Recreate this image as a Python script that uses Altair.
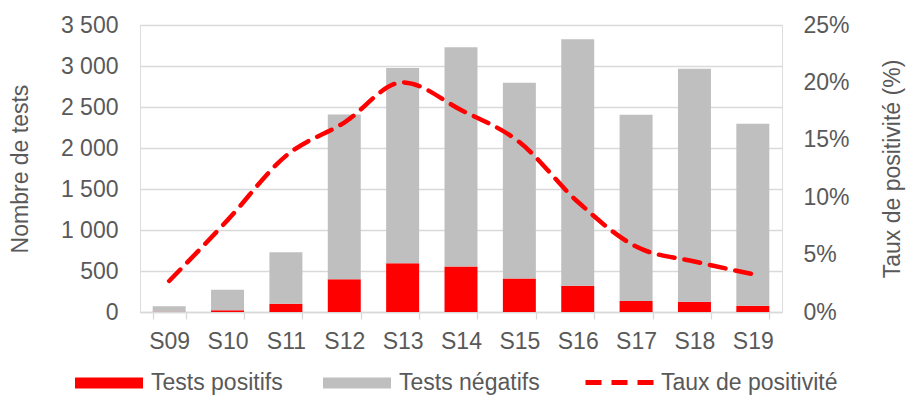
import altair as alt
import pandas as pd

weeks = ["S09", "S10", "S11", "S12", "S13", "S14", "S15", "S16", "S17", "S18", "S19"]
positifs = [2, 20, 100, 400, 595, 555, 410, 320, 135, 125, 75]
negatifs = [68, 250, 630, 2010, 2380, 2675, 2385, 3005, 2270, 2840, 2220]
taux = [0.027, 0.080, 0.136, 0.165, 0.200, 0.176, 0.148, 0.096, 0.057, 0.044, 0.033]

bar_series = ["Tests positifs", "Tests négatifs"]
bar_colors = ["#ff0000", "#bfbfbf"]
line_series = ["Taux de positivité"]

rows = []
for w, p, n in zip(weeks, positifs, negatifs):
    rows.append({"semaine": w, "serie": bar_series[0], "valeur": p, "ordre": 0})
    rows.append({"semaine": w, "serie": bar_series[1], "valeur": n, "ordre": 1})
bars_df = pd.DataFrame(rows)
line_df = pd.DataFrame({"semaine": weeks, "taux": taux, "serie": line_series * len(weeks)})

FONT = "Liberation Sans"
TXT = "#595959"
GRID = "#d9d9d9"
FS = 23

rect_path = "M-1,-0.16L1,-0.16L1,0.16L-1,0.16Z"

x_enc = alt.X(
    "semaine:N",
    sort=weeks,
    title=None,
    scale=alt.Scale(paddingInner=0.435, paddingOuter=0.2175),
    axis=alt.Axis(
        labelAngle=0, tickBand="extent", tickColor=GRID, tickSize=7, tickWidth=1.3,
        domainColor=GRID, domainWidth=1.3, grid=False, labelPadding=11,
        labelFontSize=FS, labelColor=TXT, labelFont=FONT,
    ),
)

bars = alt.Chart(bars_df).mark_bar().encode(
    x=x_enc,
    y=alt.Y(
        "valeur:Q",
        stack="zero",
        scale=alt.Scale(domain=[0, 3500], nice=False),
        title="Nombre de tests",
        axis=alt.Axis(
            values=[0, 500, 1000, 1500, 2000, 2500, 3000, 3500],
            labelExpr="replace(format(datum.value, ','), ',', ' ')",
            grid=True, gridColor=GRID, gridWidth=1.3, domain=False, ticks=False,
            labelPadding=22, labelFontSize=FS, labelColor=TXT, labelFont=FONT,
            titleFontSize=FS, titleColor=TXT, titleFont=FONT, titleFontWeight="normal",
            titlePadding=28,
        ),
    ),
    color=alt.Color(
        "serie:N",
        scale=alt.Scale(domain=bar_series, range=bar_colors),
        legend=alt.Legend(
            orient="none", legendX=-65, legendY=324, direction="horizontal", title=None,
            symbolType=rect_path, symbolSize=4624, symbolStrokeWidth=0, symbolOpacity=1,
            labelFontSize=FS, labelColor=TXT, labelFont=FONT, labelOffset=8,
            labelLimit=300, columnPadding=40,
        ),
    ),
    order=alt.Order("ordre:Q"),
)

line = alt.Chart(line_df).mark_line(
    color="#ff0000", strokeWidth=4.5, strokeCap="round",
    interpolate="monotone",
).encode(
    x=alt.X("semaine:N", sort=weeks),
    y=alt.Y(
        "taux:Q",
        scale=alt.Scale(domain=[0, 0.25], nice=False),
        title="Taux de positivité (%)",
        axis=alt.Axis(
            orient="right", values=[0, 0.05, 0.1, 0.15, 0.2, 0.25], format=".0%",
            grid=False, domain=False, ticks=False,
            labelPadding=21, labelFontSize=FS, labelColor=TXT, labelFont=FONT,
            titleFontSize=FS, titleColor=TXT, titleFont=FONT, titleFontWeight="normal",
            titlePadding=55, titleAngle=270,
        ),
    ),
    strokeDash=alt.StrokeDash(
        "serie:N",
        scale=alt.Scale(domain=line_series, range=[[16, 10]]),
        legend=alt.Legend(
            orient="none", legendX=443, legendY=321, direction="horizontal", title=None,
            symbolType="stroke", symbolSize=4624, symbolStrokeWidth=5,
            symbolStrokeColor="#ff0000", symbolOpacity=1,
            labelFontSize=FS, labelColor=TXT, labelFont=FONT, labelOffset=5,
            labelLimit=300,
        ),
    ),
)

chart = (
    alt.layer(bars, line)
    .resolve_scale(y="independent")
    .properties(
        width=642, height=287,
        autosize=alt.AutoSizeParams(type="none"),
        padding={"left": 132, "top": 17, "right": 124, "bottom": 83},
    )
    .configure_view(stroke=None)
    .configure(font=FONT)
)

chart.save("out.html", embed_options={"renderer": "svg", "actions": False})
